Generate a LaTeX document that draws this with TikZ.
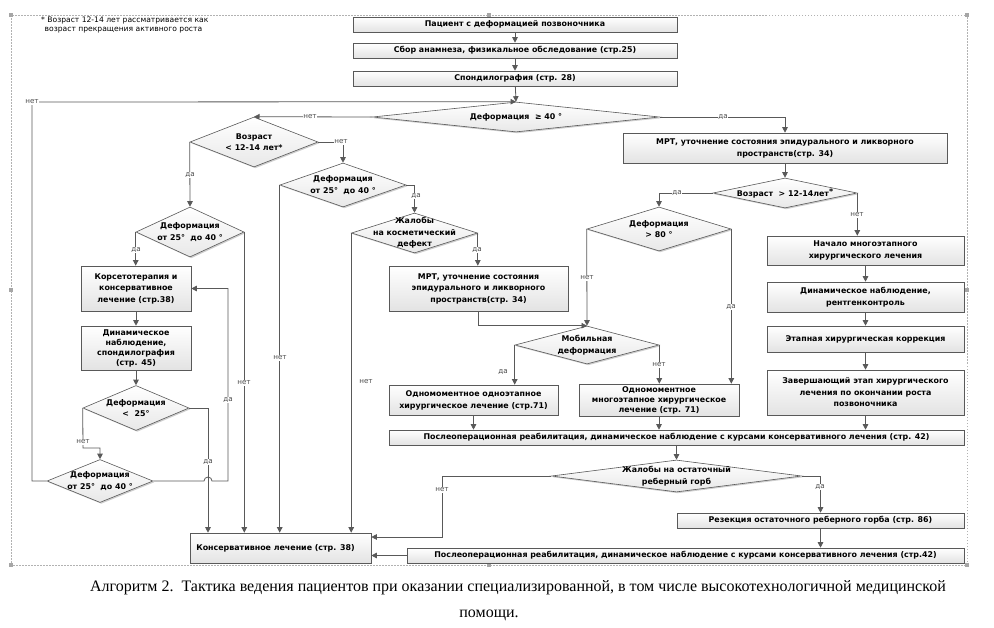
\documentclass[tikz,border=0pt]{standalone}
\usepackage{fontspec}
\setmainfont{DejaVu Sans}
\newfontfamily\capfont{Liberation Serif}
\newfontfamily\symfont{DejaVu Sans}
\usetikzlibrary{shapes.geometric,arrows.meta,shadows,calc}
\newcommand\boxfont{\bfseries\fontsize{7.9}{13}\selectfont}
\newcommand\diafont{\bfseries\fontsize{7.9}{11.5}\selectfont}
\newcommand\labfont{\fontsize{7.2}{8}\selectfont}
\newcommand\gesym{{\symfont\bfseries ≥}}
\tikzset{
 ln/.style={draw=gray!70!black, line width=0.8pt},
 conn/.style={ln, -{Triangle[length=5.5pt,width=5.5pt]}},
 box/.style={draw=gray!70!black, line width=0.6pt, top color=white, bottom color=gray!22,
   drop shadow={shadow xshift=1.3pt, shadow yshift=-1.3pt, fill=gray!55, opacity=0.7},
   font=\boxfont, align=center, inner sep=0pt},
 dia/.style={diamond, draw=gray!70!black, line width=0.6pt, top color=white, bottom color=gray!18,
   drop shadow={shadow xshift=1.3pt, shadow yshift=-1.3pt, fill=gray!55, opacity=0.7}, inner sep=0pt},
 dtext/.style={font=\diafont, align=center, inner sep=0pt},
 lab/.style={font=\labfont, text=gray!60!black, fill=white, inner sep=0.6pt},
}
\begin{document}
\begin{tikzpicture}[x=1pt,y=-1pt]
\useasboundingbox (0,0) rectangle (994,627);
% frame
\draw[gray!60, line width=0.6pt, dash pattern=on 1.5pt off 1.5pt] (11,15) rectangle (967,565);
\foreach \x/\y in {11/15,489/15,967/15,11/290,967/290,11/565,489/565,967/565}
  \fill[gray!70] (\x-2,\y-2) rectangle (\x+2,\y+2);
% footnote
\node[anchor=north west, font=\fontsize{7.6}{9.5}\selectfont, align=left, inner sep=0pt] (fn) at (41,16.5)
  {* Возраст 12-14 лет рассматривается как\\\hspace*{3.5pt}возраст прекращения активного роста};

% top column
\node[box, minimum width=324pt, minimum height=15pt] (b1) at (515,24.5) {Пациент с деформацией позвоночника};
\node[box, minimum width=324pt, minimum height=15pt] (b2) at (515,50.5) {Сбор анамнеза, физикальное обследование (стр.25)};
\node[box, minimum width=324pt, minimum height=15pt] (b3) at (515,78.5) {Спондилография (стр. 28)};
\node[dia, minimum width=287pt, minimum height=30pt] (d0) at (516,117) {};
\node[dtext] (d0t) at (d0) {Деформация\ \ \gesym\ 40 °};

% right branch
\node[box, minimum width=324pt, minimum height=30pt] (mri1) at (785,148) {МРТ, уточнение состояния эпидурального и ликворного\\[-1pt]пространств(стр. 34)};
\node[dia, minimum width=144pt, minimum height=30pt] (da2) at (785,193) {};
\node[dtext] (da2t) at (da2) {Возраст\ \ > 12-14лет\raisebox{2pt}{*}};
\node[dia, minimum width=144pt, minimum height=44pt] (d80) at (659,229) {};
\node[dtext] (d80t) at (d80) {Деформация\\> 80 °};
\node[dia, minimum width=144pt, minimum height=38pt] (mob) at (587,345) {};
\node[dtext] (mobt) at (mob) {Мобильная\\деформация};
\node[box, minimum width=197pt, minimum height=29pt] (r1) at (865.5,250.5) {Начало многоэтапного\\[-1pt]хирургического лечения};
\node[box, minimum width=197pt, minimum height=30pt] (r2) at (865.5,297) {Динамическое наблюдение,\\[-1pt]рентгенконтроль};
\node[box, minimum width=197pt, minimum height=26pt] (r3) at (865.5,339) {Этапная хирургическая коррекция};
\node[box, minimum width=197pt, minimum height=45pt] (r4) at (865.5,392.5) {Завершающий этап хирургического\\[-1.5pt]лечения по окончании роста\\[-1.5pt]позвоночника};
\node[box, minimum width=179pt, minimum height=45pt] (mri2) at (478.5,288.5) {МРТ, уточнение состояния\\[-1.5pt]эпидурального и ликворного\\[-1.5pt]пространств(стр. 34)};
\node[box, minimum width=169pt, minimum height=30pt] (single) at (473.5,400) {Одномоментное одноэтапное\\[-1pt]хирургическое лечение (стр.71)};
\node[box, minimum width=160pt, minimum height=32pt] (multi) at (659,400) {Одномоментное\\[-3pt]многоэтапное хирургическое\\[-3pt]лечение (стр. 71)};
\node[box, minimum width=575pt, minimum height=15pt] (post1) at (676.5,437.5) {Послеоперационная реабилитация, динамическое наблюдение с курсами консервативного лечения (стр. 42)};
\node[dia, minimum width=250pt, minimum height=32pt] (hump) at (676.5,476) {};
\node[dtext] (humpt) at (hump) {Жалобы на остаточный\\реберный горб};
\node[box, minimum width=287pt, minimum height=15pt] (resect) at (820.5,520.5) {Резекция остаточного реберного горба (стр. 86)};
\node[box, minimum width=557pt, minimum height=15pt] (post2) at (685.5,555.5) {Послеоперационная реабилитация, динамическое наблюдение с курсами консервативного лечения (стр.42)};
\node[box, minimum width=181pt, minimum height=30pt] (cons) at (280.5,548) {\hspace*{-10pt}Консервативное лечение (стр. 38)};

% left branch
\node[dia, minimum width=128pt, minimum height=50pt] (da1) at (254,142) {};
\node[dtext] (da1t) at (da1) {Возраст\\< 12-14 лет*};
\node[dia, minimum width=126pt, minimum height=44pt] (d2) at (343,185) {};
\node[dtext] (d2t) at (d2) {Деформация\\от 25°\ \ до 40 °};
\node[dia, minimum width=126pt, minimum height=40pt] (zh) at (414.5,233) {};
\node[dtext] (zht) at (zh) {Жалобы\\на косметический\\дефект};
\node[dia, minimum width=108pt, minimum height=50pt] (d3) at (190,232) {};
\node[dtext] (d3t) at (d3) {Деформация\\от 25°\ \ до 40 °};
\node[box, minimum width=110pt, minimum height=45pt] (kors) at (136,288.5) {Корсетотерапия и\\[-1.5pt]консервативное\\[-1.5pt]лечение (стр.38)};
\node[box, minimum width=110pt, minimum height=44pt] (dyn) at (136,348) {Динамическое\\[-3pt]наблюдение,\\[-3pt]спондилография\\[-3pt](стр. 45)};
\node[dia, minimum width=106pt, minimum height=45pt] (d4) at (136,408) {};
\node[dtext] (d4t) at (d4) {Деформация\\<\ \ 25°};
\node[dia, minimum width=106pt, minimum height=43pt] (d5) at (100,481) {};
\node[dtext] (d5t) at (d5) {Деформация\\от 25°\ \ до 40 °};

% coordinates
\coordinate (loop) at (32,102);
\coordinate (n4) at (83,448);
\coordinate (x208) at (208,408);
\coordinate (x228) at (228,481);
\coordinate (hc) at (442,537);

% connectors top
\draw[conn] (b1) -- (b2);
\draw[conn] (b2) -- (b3);
\draw[conn] (b3) -- (d0.north);
\draw[conn] (d5.west) -| (loop) -- (d0.north);
\node[lab] at (loop) {нет};
\draw[conn] (d0.west) -- (da1.north);
\node[lab] at (310,117) {нет};
\draw[conn] (d0.east) -| (mri1.north);
\node[lab] at (723,117) {да};
\draw[conn] (mri1) -- (da2.north);
\draw[conn] (da2.west) -| (d80.north);
\node[lab] at (677,193) {да};
\draw[conn] (da2.east) -- (da2.east |- r1.north);
\node[lab] at (857,215) {нет};
\draw[conn] (r1) -- (r2);
\draw[conn] (r2) -- (r3);
\draw[conn] (r3) -- (r4);
\draw[conn] (r4.south) -- (r4.south |- post1.north);
\draw[conn] (d80.west) -- (mob.north);
\node[lab] at (587,278) {нет};
\draw[conn] (mri2.south) |- (mob.north);
\draw[conn] (d80.east) -- (d80.east |- multi.north);
\node[lab] at (731,307) {да};
\draw[conn] (mob.west) -- (mob.west |- single.north);
\node[lab] at (503,372) {да};
\draw[conn] (mob.east) -- (mob.east |- multi.north);
\node[lab] at (659,365) {нет};
\draw[conn] (single.south) -- (single.south |- post1.north);
\draw[conn] (multi.south) -- (multi.south |- post1.north);
\draw[conn] (post1.south -| hump.north) -- (hump.north);
\draw[conn] (hump.east) -| (resect.north);
\node[lab] at (820,487) {да};
\draw[conn] (resect.south) -- (resect.south |- post2.north);
\draw[conn] (post2.west) -- (post2.west -| cons.east);
\draw[conn] (hump.west) -| (hc) -- (hc -| cons.east);
\node[lab] at (442,490) {нет};

% left connectors
\draw[conn] (da1.west) -- (d3.north);
\node[lab] at (190,175) {да};
\draw[conn] (da1.east) -| (d2.north);
\node[lab] at (341,142) {нет};
\draw[conn] (d2.east) -| (zh.north);
\node[lab] at (416,196) {да};
\draw[conn] (d2.west) -- (d2.west |- cons.north);
\node[lab] at (280,358) {нет};
\draw[conn] (zh.west) -- (zh.west |- cons.north);
\node[lab] at (366,382) {нет};
\draw[conn] (zh.east) -- (zh.east |- mri2.north);
\node[lab] at (477,250) {да};
\draw[conn] (d3.west) -- (d3.west |- kors.north);
\node[lab] at (136,250) {да};
\draw[conn] (d3.east) -- (d3.east |- cons.north);
\node[lab] at (244,383) {нет};
\draw[conn] (kors) -- (dyn);
\draw[conn] (dyn) -- (d4.north);
\draw[conn] (d4.east) -| (x208 |- cons.north);
\node[lab] at (208,462) {да};
\draw[conn] (d4.west) -- (n4) -| (d5.north);
\node[lab] at (83,442) {нет};
\draw[conn] (d5.east) -- ($(x208 |- x228)+(-4,0)$) arc[start angle=180, end angle=0, radius=4pt] -- (x228) |- (kors.east);
\node[lab] at (228,400) {да};

% caption
\node[font=\capfont\fontsize{16}{18}\selectfont, inner sep=0pt] (cap1) at (518,588) {Алгоритм 2.\ \ Тактика ведения пациентов при оказании специализированной, в том числе высокотехнологичной медицинской};
\node[font=\capfont\fontsize{16}{18}\selectfont, inner sep=0pt] (cap2) at (489,615) {помощи.};
\end{tikzpicture}
\end{document}
